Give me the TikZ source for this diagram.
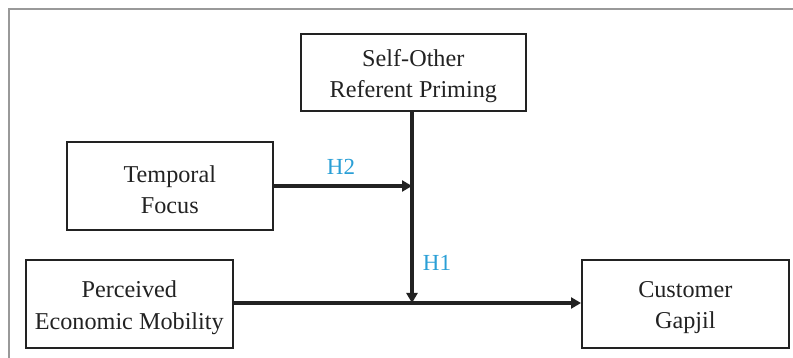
\documentclass[tikz,border=0pt]{standalone}
\usepackage{fontspec}
\setmainfont{Liberation Serif}
\usetikzlibrary{arrows.meta}
\definecolor{hyp}{HTML}{2A9FD6}
\definecolor{ink}{HTML}{222222}
\begin{document}
\begin{tikzpicture}[x=1pt,y=-1pt,
  box/.style={draw=ink,line width=1.6pt,inner sep=0pt,anchor=north west},
  boxtext/.style={align=center,font=\fontsize{24.2}{31.5}\selectfont,text=ink,
    inner sep=0pt,yshift=-4pt},
  link/.style={draw=ink,line width=3.2pt,-{Triangle[length=10pt,width=11pt]}},
  hlabel/.style={text=hyp,font=\fontsize{23}{26}\selectfont,inner sep=0pt}]
\useasboundingbox (0,0) rectangle (793,358);
% outer frame
\draw[gray!80,line width=1.6pt] (9,358) -- (9,9) -- (793,9);
% variables
\node[box,minimum width=225pt,minimum height=77pt,
  label={[boxtext]center:{Self-Other\\Referent Priming}}] (sor) at (300,33) {};
\node[box,minimum width=206pt,minimum height=88pt,
  label={[boxtext]center:{Temporal\\Focus}}] (tf) at (66,141) {};
\node[box,minimum width=207pt,minimum height=88pt,
  label={[boxtext]center:{Perceived\\Economic Mobility}}] (pem) at (25,259) {};
\node[box,minimum width=207pt,minimum height=88pt,
  label={[boxtext]center:{Customer\\Gapjil}}] (cg) at (581,259) {};
% junction points on the connectors
\coordinate (jm) at (412,186);
\coordinate (jb) at (412,303);
% connectors
\draw[link] (pem.east |- jb) -- (cg.west |- jb);
\draw[link] (sor.south -| jb) -- (jb);
\draw[link] (tf.east |- jm) -- (jm);
% hypothesis labels
\node[hlabel] (h2) at (341,167) {H2};
\node[hlabel] (h1) at (437,263) {H1};
\end{tikzpicture}
\end{document}
